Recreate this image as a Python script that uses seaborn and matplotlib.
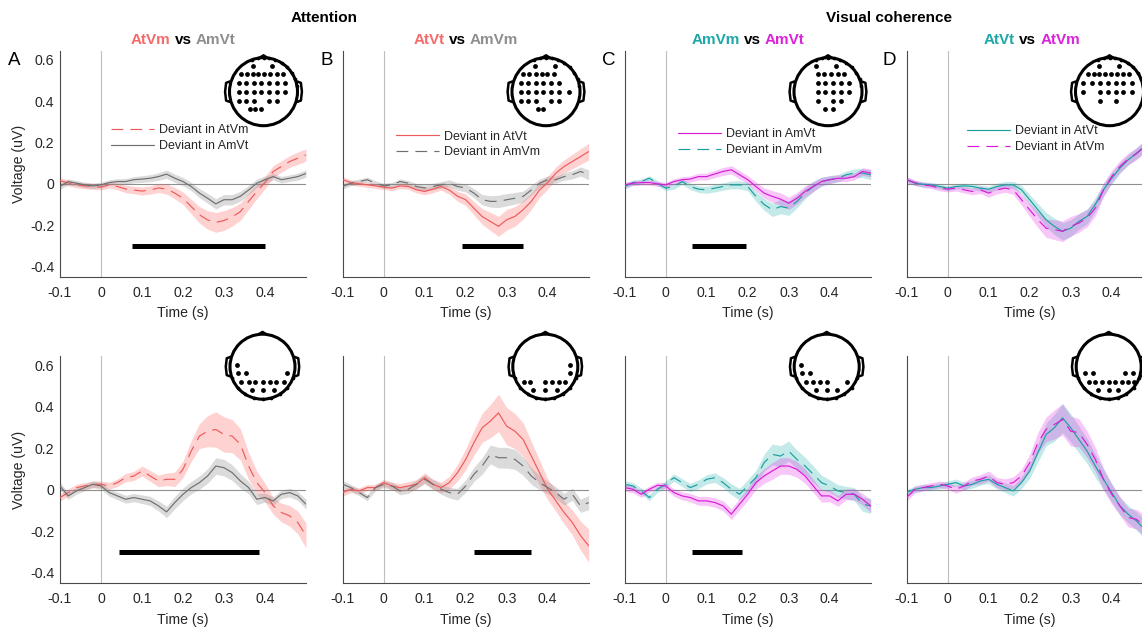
import numpy as np
import pandas as pd
import seaborn as sns
import matplotlib
matplotlib.use("Agg")
import matplotlib.pyplot as plt
from matplotlib.lines import Line2D
from matplotlib.patches import Circle

# ------------------------------------------------------------------ data
times = [-0.10, -0.08, -0.06, -0.04, -0.02, 0.00, 0.02, 0.04, 0.06, 0.08, 0.10,
         0.12, 0.14, 0.16, 0.18, 0.20, 0.22, 0.24, 0.26, 0.28, 0.30, 0.32, 0.34,
         0.36, 0.38, 0.40, 0.42, 0.44, 0.46, 0.48, 0.50]

# Panel A, top (frontal cluster): Deviant in AtVm (red, dashed) / AmVt (gray, solid)
a_top_red = [0.015, 0.005, -0.005, -0.010, -0.013, -0.016, -0.005, -0.013, -0.025, -0.030, -0.035,
             -0.030, -0.020, -0.025, -0.045, -0.070, -0.110, -0.150, -0.175, -0.187, -0.178, -0.160, -0.135,
             -0.085, -0.037, 0.006, 0.060, 0.084, 0.108, 0.124, 0.140]
a_top_red_sem = [0.015, 0.015, 0.014, 0.014, 0.014, 0.014, 0.015, 0.016, 0.018, 0.018, 0.020,
                 0.020, 0.022, 0.025, 0.028, 0.030, 0.035, 0.040, 0.045, 0.048, 0.048, 0.045, 0.042,
                 0.040, 0.035, 0.030, 0.028, 0.028, 0.028, 0.030, 0.030]
a_top_gray = [-0.013, 0.010, 0.003, -0.005, -0.010, -0.005, 0.006, 0.011, 0.011, 0.020, 0.023,
              0.027, 0.035, 0.047, 0.027, 0.011, -0.013, -0.045, -0.070, -0.097, -0.077, -0.077, -0.060,
              -0.030, 0.003, 0.020, 0.035, 0.020, 0.027, 0.035, 0.050]
a_top_gray_sem = [0.015, 0.014, 0.013, 0.013, 0.013, 0.013, 0.013, 0.014, 0.015, 0.015, 0.016,
                  0.017, 0.018, 0.020, 0.020, 0.020, 0.020, 0.022, 0.024, 0.025, 0.025, 0.025, 0.024,
                  0.022, 0.020, 0.018, 0.016, 0.016, 0.016, 0.017, 0.018]

# Panel B, top: Deviant in AtVt (red, solid) / AmVm (gray, dashed)
b_top_red = [0.020, 0.006, 0.000, -0.005, -0.010, -0.016, -0.021, -0.010, -0.013, -0.029, -0.037,
             -0.026, -0.013, -0.030, -0.060, -0.077, -0.118, -0.158, -0.182, -0.206, -0.174, -0.158, -0.126,
             -0.085, -0.030, 0.006, 0.052, 0.084, 0.108, 0.132, 0.156]
b_top_red_sem = [0.014, 0.013, 0.012, 0.012, 0.012, 0.012, 0.012, 0.013, 0.014, 0.015, 0.016,
                 0.017, 0.018, 0.020, 0.024, 0.028, 0.032, 0.038, 0.044, 0.048, 0.050, 0.048, 0.045,
                 0.040, 0.036, 0.032, 0.030, 0.032, 0.035, 0.038, 0.040]
b_top_gray = [-0.013, 0.003, 0.011, 0.020, 0.003, -0.010, -0.005, 0.011, 0.003, -0.013, -0.020,
              -0.013, -0.005, 0.003, -0.013, -0.020, -0.045, -0.077, -0.085, -0.085, -0.077, -0.070, -0.061,
              -0.030, 0.003, 0.020, 0.020, 0.035, 0.044, 0.060, 0.044]
b_top_gray_sem = [0.013, 0.012, 0.012, 0.012, 0.012, 0.012, 0.012, 0.013, 0.013, 0.014, 0.015,
                  0.016, 0.016, 0.017, 0.018, 0.020, 0.022, 0.025, 0.028, 0.030, 0.030, 0.028, 0.026,
                  0.024, 0.020, 0.018, 0.017, 0.018, 0.020, 0.022, 0.024]

# Panel C, top: Deviant in AmVt (magenta, solid) / AmVm (teal, dashed)
c_top_mag = [-0.005, 0.003, 0.006, 0.006, 0.000, -0.005, 0.011, 0.020, 0.023, 0.035, 0.035,
             0.048, 0.060, 0.068, 0.044, 0.020, -0.013, -0.045, -0.061, -0.074, -0.094, -0.070, -0.037,
             -0.013, 0.011, 0.020, 0.027, 0.027, 0.035, 0.060, 0.052]
c_top_mag_sem = [0.013, 0.012, 0.012, 0.012, 0.012, 0.012, 0.013, 0.014, 0.015, 0.016, 0.017,
                 0.018, 0.019, 0.020, 0.020, 0.020, 0.022, 0.025, 0.028, 0.030, 0.030, 0.028, 0.026,
                 0.024, 0.020, 0.018, 0.016, 0.016, 0.017, 0.018, 0.020]
c_top_teal = [-0.013, 0.006, 0.011, 0.027, 0.003, -0.021, -0.013, 0.011, -0.013, -0.026, -0.029,
              -0.021, -0.013, -0.005, -0.005, -0.013, -0.061, -0.100, -0.126, -0.110, -0.118, -0.085, -0.045,
              -0.013, 0.011, 0.020, 0.027, 0.044, 0.052, 0.052, 0.044]
c_top_teal_sem = [0.013, 0.012, 0.012, 0.012, 0.012, 0.012, 0.013, 0.014, 0.015, 0.016, 0.017,
                  0.018, 0.018, 0.019, 0.020, 0.020, 0.024, 0.028, 0.032, 0.035, 0.035, 0.032, 0.028,
                  0.025, 0.022, 0.020, 0.018, 0.018, 0.020, 0.022, 0.024]

# Panel D, top: Deviant in AtVt (teal, solid) / AtVm (magenta, dashed)
d_top_teal = [0.020, 0.003, -0.002, -0.005, -0.013, -0.021, -0.013, -0.010, -0.013, -0.021, -0.026,
              -0.013, -0.005, -0.005, -0.029, -0.077, -0.126, -0.174, -0.206, -0.230, -0.215, -0.182, -0.158,
              -0.100, -0.029, 0.027, 0.076, 0.116, 0.148, 0.180, 0.205]
d_top_teal_sem = [0.013, 0.012, 0.012, 0.012, 0.012, 0.012, 0.012, 0.013, 0.013, 0.014, 0.015,
                  0.016, 0.016, 0.017, 0.020, 0.025, 0.030, 0.035, 0.040, 0.042, 0.040, 0.038, 0.036,
                  0.034, 0.030, 0.028, 0.026, 0.026, 0.027, 0.028, 0.030]
d_top_mag = [0.020, 0.006, -0.005, -0.010, -0.021, -0.026, -0.021, -0.029, -0.037, -0.029, -0.045,
             -0.029, -0.021, -0.029, -0.077, -0.126, -0.174, -0.215, -0.222, -0.230, -0.206, -0.190, -0.166,
             -0.118, -0.029, 0.035, 0.084, 0.120, 0.145, 0.180, 0.213]
d_top_mag_sem = [0.014, 0.013, 0.013, 0.013, 0.013, 0.013, 0.014, 0.015, 0.016, 0.018, 0.020,
                 0.020, 0.020, 0.022, 0.026, 0.032, 0.038, 0.044, 0.048, 0.050, 0.048, 0.045, 0.042,
                 0.038, 0.034, 0.030, 0.028, 0.028, 0.029, 0.030, 0.032]

# Panel A, bottom (posterior cluster)
a_bot_red = [-0.037, -0.013, 0.011, 0.019, 0.027, 0.027, 0.019, 0.035, 0.059, 0.067, 0.091,
             0.067, 0.043, 0.051, 0.051, 0.099, 0.187, 0.259, 0.283, 0.291, 0.267, 0.259, 0.219,
             0.115, 0.035, -0.013, -0.077, -0.109, -0.125, -0.157, -0.220]
a_bot_red_sem = [0.018, 0.017, 0.016, 0.016, 0.016, 0.016, 0.017, 0.018, 0.020, 0.022, 0.024,
                 0.026, 0.028, 0.030, 0.035, 0.040, 0.050, 0.060, 0.075, 0.085, 0.085, 0.080, 0.075,
                 0.065, 0.055, 0.045, 0.040, 0.045, 0.050, 0.055, 0.060]
a_bot_gray = [0.019, -0.029, -0.005, 0.011, 0.027, 0.019, -0.013, -0.029, -0.045, -0.037, -0.045,
              -0.053, -0.077, -0.106, -0.061, -0.021, 0.011, 0.035, 0.067, 0.115, 0.107, 0.083, 0.043,
              0.011, -0.045, -0.037, -0.053, -0.021, -0.013, -0.029, -0.069]
a_bot_gray_sem = [0.018, 0.017, 0.016, 0.016, 0.016, 0.016, 0.017, 0.018, 0.019, 0.020, 0.021,
                  0.022, 0.024, 0.028, 0.030, 0.030, 0.030, 0.032, 0.035, 0.040, 0.040, 0.038, 0.035,
                  0.030, 0.026, 0.022, 0.020, 0.020, 0.021, 0.022, 0.024]

# Panel B, bottom
b_bot_red = [-0.013, 0.003, -0.005, 0.011, 0.011, 0.035, 0.019, 0.011, 0.019, 0.027, 0.059,
             0.027, 0.011, 0.035, 0.083, 0.147, 0.227, 0.299, 0.331, 0.371, 0.307, 0.283, 0.243,
             0.163, 0.083, 0.003, -0.053, -0.109, -0.157, -0.220, -0.269]
b_bot_red_sem = [0.017, 0.016, 0.015, 0.015, 0.015, 0.016, 0.018, 0.020, 0.021, 0.022, 0.024,
                 0.025, 0.026, 0.030, 0.040, 0.050, 0.060, 0.070, 0.080, 0.090, 0.090, 0.085, 0.080,
                 0.070, 0.060, 0.050, 0.050, 0.055, 0.060, 0.070, 0.080]
b_bot_gray = [0.027, 0.011, -0.013, -0.037, 0.011, 0.027, 0.019, -0.005, 0.003, 0.027, 0.051,
              0.027, 0.003, -0.013, -0.021, 0.019, 0.075, 0.115, 0.171, 0.155, 0.155, 0.147, 0.115,
              0.067, 0.035, 0.011, -0.013, -0.045, -0.021, -0.077, -0.061]
b_bot_gray_sem = [0.017, 0.016, 0.015, 0.015, 0.015, 0.016, 0.018, 0.019, 0.020, 0.021, 0.022,
                  0.023, 0.024, 0.026, 0.028, 0.030, 0.034, 0.040, 0.045, 0.050, 0.050, 0.048, 0.045,
                  0.040, 0.035, 0.030, 0.028, 0.028, 0.030, 0.032, 0.034]

# Panel C, bottom
c_bot_teal = [0.027, 0.019, -0.005, -0.037, 0.003, 0.027, 0.059, 0.035, 0.011, 0.027, 0.051,
              0.059, 0.035, 0.003, -0.021, 0.019, 0.059, 0.131, 0.171, 0.163, 0.187, 0.147, 0.115,
              0.075, 0.035, 0.019, -0.005, -0.013, -0.021, -0.069, -0.077]
c_bot_teal_sem = [0.017, 0.016, 0.015, 0.015, 0.015, 0.016, 0.018, 0.019, 0.020, 0.021, 0.022,
                  0.023, 0.024, 0.026, 0.028, 0.030, 0.035, 0.040, 0.050, 0.050, 0.048, 0.045, 0.042,
                  0.040, 0.035, 0.030, 0.030, 0.030, 0.032, 0.034, 0.036]
c_bot_mag = [0.011, 0.003, -0.021, 0.003, 0.022, 0.019, -0.013, -0.029, -0.037, -0.053, -0.053,
             -0.061, -0.077, -0.117, -0.069, -0.021, 0.035, 0.067, 0.091, 0.115, 0.115, 0.099, 0.067,
             0.019, -0.029, -0.029, -0.053, -0.021, -0.021, -0.045, -0.077]
c_bot_mag_sem = [0.017, 0.016, 0.015, 0.015, 0.015, 0.016, 0.018, 0.019, 0.020, 0.021, 0.022,
                 0.023, 0.024, 0.026, 0.028, 0.030, 0.032, 0.035, 0.040, 0.040, 0.040, 0.038, 0.035,
                 0.032, 0.030, 0.028, 0.026, 0.026, 0.027, 0.028, 0.030]

# Panel D, bottom
d_bot_teal = [-0.013, 0.003, 0.011, 0.011, 0.019, 0.027, 0.035, 0.019, 0.027, 0.043, 0.051,
              0.027, 0.011, -0.005, 0.035, 0.091, 0.179, 0.267, 0.299, 0.347, 0.299, 0.243, 0.187,
              0.115, 0.051, -0.013, -0.077, -0.117, -0.149, -0.189, -0.220]
d_bot_teal_sem = [0.016, 0.015, 0.015, 0.015, 0.015, 0.016, 0.017, 0.018, 0.019, 0.020, 0.021,
                  0.022, 0.023, 0.025, 0.028, 0.035, 0.045, 0.055, 0.065, 0.070, 0.068, 0.065, 0.060,
                  0.055, 0.050, 0.045, 0.042, 0.042, 0.044, 0.046, 0.048]
d_bot_mag = [-0.037, 0.003, 0.011, 0.019, 0.027, 0.019, 0.003, 0.019, 0.043, 0.051, 0.067,
             0.035, 0.027, 0.035, 0.067, 0.131, 0.227, 0.291, 0.315, 0.339, 0.283, 0.275, 0.219,
             0.147, 0.051, -0.021, -0.077, -0.133, -0.141, -0.173, -0.213]
d_bot_mag_sem = [0.018, 0.017, 0.016, 0.016, 0.016, 0.017, 0.018, 0.019, 0.020, 0.022, 0.024,
                 0.025, 0.026, 0.028, 0.032, 0.040, 0.050, 0.060, 0.070, 0.075, 0.072, 0.068, 0.064,
                 0.058, 0.052, 0.048, 0.045, 0.045, 0.047, 0.050, 0.052]

# Significant time windows (s)
sig_a_top = [0.075, 0.400]
sig_b_top = [0.190, 0.340]
sig_c_top = [0.065, 0.195]
sig_a_bot = [0.045, 0.385]
sig_b_bot = [0.220, 0.360]
sig_c_bot = [0.065, 0.185]
sig_level = -0.30

x_ticks = [-0.1, 0, 0.1, 0.2, 0.3, 0.4]
y_ticks = [-0.4, -0.2, 0, 0.2, 0.4, 0.6]

# Electrode clusters (normalised head coordinates)
head_a_top = [(-0.32, 0.755), (0.26, 0.755),
              (-0.66, 0.51), (-0.49, 0.51), (-0.32, 0.51), (-0.15, 0.51), (0.02, 0.51), (0.20, 0.51), (0.39, 0.51), (0.56, 0.51),
              (-0.735, 0.245), (-0.51, 0.245), (-0.29, 0.245), (-0.07, 0.245), (0.17, 0.245), (0.39, 0.245), (0.64, 0.245),
              (-0.735, -0.02), (-0.51, -0.02), (-0.29, -0.02), (-0.07, -0.02), (0.17, -0.02), (0.39, -0.02), (0.64, -0.02),
              (-0.735, -0.265), (-0.51, -0.265), (-0.29, -0.265), (0.17, -0.265), (0.39, -0.265),
              (-0.41, -0.51), (-0.245, -0.51), (-0.08, -0.51)]
head_b_top = [(-0.33, 0.755), (0.25, 0.755),
              (-0.67, 0.51), (-0.50, 0.51), (-0.30, 0.51), (-0.13, 0.51), (0.04, 0.51), (0.24, 0.51),
              (-0.75, 0.245), (-0.52, 0.245), (-0.30, 0.245), (-0.08, 0.245), (0.16, 0.245), (0.38, 0.245),
              (-0.75, -0.02), (-0.52, -0.02), (-0.30, -0.02), (-0.08, -0.02), (0.16, -0.02), (0.38, -0.02), (0.68, -0.02),
              (-0.75, -0.265), (-0.52, -0.265), (-0.30, -0.265), (0.16, -0.265), (0.38, -0.265),
              (-0.25, -0.51), (-0.09, -0.51)]
head_c_top = [(-0.35, 0.755), (0.24, 0.755),
              (-0.30, 0.51), (-0.11, 0.51), (0.09, 0.51), (0.28, 0.51), (0.48, 0.51),
              (-0.30, 0.245), (-0.08, 0.245), (0.16, 0.245), (0.38, 0.245), (0.63, 0.245),
              (-0.30, -0.02), (-0.08, -0.02), (0.16, -0.02), (0.38, -0.02), (0.63, -0.02),
              (-0.30, -0.265), (0.16, -0.265), (0.38, -0.265),
              (-0.09, -0.51), (0.16, -0.51)]
head_d_top = [(-0.30, 0.755), (0.28, 0.755),
              (-0.64, 0.51), (-0.47, 0.51), (-0.30, 0.51), (-0.13, 0.51), (0.04, 0.51), (0.22, 0.51), (0.41, 0.51), (0.58, 0.51),
              (-0.77, 0.245), (-0.52, 0.245), (-0.28, 0.245), (-0.05, 0.245), (0.18, 0.245), (0.41, 0.245), (0.65, 0.245),
              (-0.77, -0.02), (-0.28, -0.02), (-0.05, -0.02), (0.18, -0.02), (0.41, -0.02), (0.65, -0.02),
              (-0.28, -0.265), (0.18, -0.265)]
head_a_bot = [(-0.77, 0.05), (-0.76, -0.20), (-0.50, -0.20), (0.75, -0.20),
              (-0.66, -0.46), (-0.43, -0.46), (-0.23, -0.46), (0.00, -0.46), (0.22, -0.46), (0.42, -0.46), (0.65, -0.46),
              (-0.33, -0.71), (0.00, -0.71), (0.34, -0.71)]
head_b_bot = [(0.77, 0.05), (0.75, -0.20),
              (-0.67, -0.46), (-0.48, -0.46), (0.00, -0.46), (0.20, -0.46), (0.41, -0.46), (0.61, -0.46),
              (-0.37, -0.71), (0.00, -0.71), (0.35, -0.71)]
head_c_bot = [(-0.78, 0.05), (-0.75, -0.20), (-0.51, -0.20),
              (-0.63, -0.46), (-0.43, -0.46), (-0.22, -0.46), (0.00, -0.46), (0.63, -0.46),
              (-0.33, -0.71), (0.00, -0.71), (0.33, -0.71)]
head_d_bot = [(-0.72, -0.20), (-0.49, -0.20), (0.50, -0.20), (0.76, -0.20),
              (-0.62, -0.46), (-0.42, -0.46), (-0.21, -0.46), (0.00, -0.46), (0.19, -0.46), (0.40, -0.46), (0.60, -0.46), (0.78, -0.46),
              (-0.32, -0.71), (0.00, -0.71), (0.30, -0.71)]

# ------------------------------------------------------------------ style
RED, RED_F = "#ee5a5a", "#ff5f5f"
GRAY, GRAY_F = "#6f6f6f", "#808080"
TEAL, TEAL_F = "#1c9f9f", "#2ab0b0"
MAG, MAG_F = "#d81cd8", "#e633e6"
T_RED, T_GRAY, T_TEAL, T_MAG = "#f56b6b", "#8e8e8e", "#1ea7a7", "#dd22dd"
TXT = "#262626"
DASH = (0, (10, 6))

sns.set_theme(style="white")
plt.rcParams["font.family"] = ["Liberation Sans", "DejaVu Sans"]
plt.rcParams["axes.unicode_minus"] = False

W, H = 1142, 627
fig = plt.figure(figsize=(W / 100, H / 100), dpi=100)


def fx(px):
    return px / W


def fy(py):
    return 1 - py / H


def fmt(v):
    return "%g" % v


lefts = [60.0, 342.7, 624.7, 906.7]
AX_W = 246.0
rows = [(50.7, 276.7), (356.0, 583.3)]

panels = [
    # row, col, series list, sig, legend anchor, legend order
    (0, 0, [(a_top_red, a_top_red_sem, RED, RED_F, DASH, "Deviant in AtVm"),
            (a_top_gray, a_top_gray_sem, GRAY, GRAY_F, "-", "Deviant in AmVt")], sig_a_top, (111, 138), [0, 1]),
    (0, 1, [(b_top_red, b_top_red_sem, RED, RED_F, "-", "Deviant in AtVt"),
            (b_top_gray, b_top_gray_sem, GRAY, GRAY_F, DASH, "Deviant in AmVm")], sig_b_top, (396, 144.5), [0, 1]),
    (0, 2, [(c_top_teal, c_top_teal_sem, TEAL, TEAL_F, DASH, "Deviant in AmVm"),
            (c_top_mag, c_top_mag_sem, MAG, MAG_F, "-", "Deviant in AmVt")], sig_c_top, (678, 142), [1, 0]),
    (0, 3, [(d_top_teal, d_top_teal_sem, TEAL, TEAL_F, "-", "Deviant in AtVt"),
            (d_top_mag, d_top_mag_sem, MAG, MAG_F, DASH, "Deviant in AtVm")], None, (967, 139), [0, 1]),
    (1, 0, [(a_bot_red, a_bot_red_sem, RED, RED_F, DASH, None),
            (a_bot_gray, a_bot_gray_sem, GRAY, GRAY_F, "-", None)], sig_a_bot, None, None),
    (1, 1, [(b_bot_red, b_bot_red_sem, RED, RED_F, "-", None),
            (b_bot_gray, b_bot_gray_sem, GRAY, GRAY_F, DASH, None)], sig_b_bot, None, None),
    (1, 2, [(c_bot_teal, c_bot_teal_sem, TEAL, TEAL_F, DASH, None),
            (c_bot_mag, c_bot_mag_sem, MAG, MAG_F, "-", None)], sig_c_bot, None, None),
    (1, 3, [(d_bot_teal, d_bot_teal_sem, TEAL, TEAL_F, "-", None),
            (d_bot_mag, d_bot_mag_sem, MAG, MAG_F, DASH, None)], None, None, None),
]

t_arr = np.array(times)
for row, col, series, sig, leg, order in panels:
    top, bot = rows[row]
    ax = fig.add_axes([fx(lefts[col]), fy(bot), AX_W / W, (bot - top) / H])
    ax.set_xlim(-0.1, 0.5)
    ax.set_ylim(-0.45, 0.645)
    ax.axvline(0, color="#bdbdbd", lw=0.8, zorder=1)
    ax.axhline(0, color="#8f8f8f", lw=0.8, zorder=1)
    for m, s, c, cf, ls, lab in series:
        m = np.array(m)
        s = np.array(s)
        ax.fill_between(t_arr, m - s, m + s, color=cf, alpha=0.28, lw=0, zorder=2)
    for m, s, c, cf, ls, lab in series:
        df = pd.DataFrame({"t": times, "v": m})
        sns.lineplot(data=df, x="t", y="v", ax=ax, color=c, lw=0.85, linestyle=ls, zorder=3)
    if sig is not None:
        ax.plot(sig, [sig_level, sig_level], color="black", lw=3.6, solid_capstyle="butt", zorder=4)
    for sp in ["top", "right"]:
        ax.spines[sp].set_visible(False)
    for sp in ["left", "bottom"]:
        ax.spines[sp].set_color("#4a4a4a")
        ax.spines[sp].set_linewidth(0.8)
    ax.set_xticks(x_ticks)
    ax.set_xticklabels([fmt(v) for v in x_ticks])
    ax.tick_params(axis="x", direction="in", length=3, width=0.6, colors=TXT, labelsize=10.2, pad=6.5)
    if col == 0:
        ax.set_yticks(y_ticks)
        ax.set_yticklabels([fmt(v) for v in y_ticks])
        ax.tick_params(axis="y", direction="in", length=3, width=0.6, colors=TXT, labelsize=10.2, pad=4)
        ax.set_ylabel("Voltage (uV)", fontsize=10.2, color=TXT)
        ax.yaxis.set_label_coords((25.5 - lefts[0]) / AX_W, 0.5)
    else:
        ax.set_yticks([])
        ax.set_ylabel("")
    ax.set_xlabel("Time (s)", fontsize=10.2, color=TXT, labelpad=4.5)
    if leg is not None:
        handles = []
        for i in order:
            m, s, c, cf, ls, lab = series[i]
            handles.append(Line2D([0], [0], color=c, lw=0.85, linestyle=ls, label=lab))
        lg = ax.legend(handles=handles, loc="center left", bbox_to_anchor=(fx(leg[0]), fy(leg[1])),
                       bbox_transform=fig.transFigure, frameon=False, fontsize=9, handlelength=3.4,
                       handletextpad=0.45, labelspacing=0.3, borderpad=0, borderaxespad=0)
        for t in lg.get_texts():
            t.set_color(TXT)
    else:
        if ax.get_legend() is not None:
            ax.get_legend().remove()

# ------------------------------------------------------------------ heads
heads = [
    (263.5, 91.7, 34, head_a_top, "top"), (546.0, 91.7, 34, head_b_top, "top"),
    (828.0, 91.7, 34, head_c_top, "top"), (1109.5, 91.7, 34, head_d_top, "top"),
    (262.5, 366.7, 32.5, head_a_bot, "bot"), (545.3, 366.7, 32.5, head_b_bot, "bot"),
    (826.7, 366.7, 32.5, head_c_bot, "bot"), (1108.7, 366.7, 32.5, head_d_bot, "bot"),
]
for cx, cy, r, dots, kind in heads:
    k = 1.3
    hx = fig.add_axes([fx(cx - k * r), fy(cy + k * r), 2 * k * r / W, 2 * k * r / H])
    hx.set_xlim(-k, k)
    hx.set_ylim(-k, k)
    hx.axis("off")
    hx.add_patch(Circle((0, 0), 1.0, fill=False, lw=2.2, ec="black"))
    for sgn in (-1, 1):
        hx.plot([sgn * 0.99, sgn * 1.10, sgn * 1.13, sgn * 1.10, sgn * 0.99],
                [0.30, 0.26, 0.0, -0.26, -0.30], color="black", lw=1.8, solid_joinstyle="round")
    hx.plot([-0.12, 0.0, 0.12], [0.995, 1.07, 0.995], color="black", lw=1.8)
    if kind == "top":
        angs = np.deg2rad([110, 100, 90, 80, 70, 58, 46, 34, 22, 10])
    else:
        angs = np.deg2rad([-160, -140, -122, -106, -90, -74, -58, -40, -20])
    hx.scatter(1.0 * np.cos(angs), 1.0 * np.sin(angs), s=7, color="black", lw=0, zorder=3)
    dx = [d[0] for d in dots]
    dy = [d[1] for d in dots]
    hx.scatter(dx, dy, s=12, color="black", lw=0, zorder=4)

# ------------------------------------------------------------------ texts
renderer = fig.canvas.get_renderer()


def color_title(parts, cx_px, base_px, size=11):
    texts, widths = [], []
    for s, c in parts:
        t = fig.text(0, 0, s, color=c, fontsize=size, fontweight="bold", ha="left", va="baseline")
        widths.append(t.get_window_extent(renderer).width)
        texts.append(t)
    sp = fig.text(0, 0, "a a", fontsize=size, fontweight="bold")
    sp2 = fig.text(0, 0, "aa", fontsize=size, fontweight="bold")
    space = sp.get_window_extent(renderer).width - sp2.get_window_extent(renderer).width
    sp.remove()
    sp2.remove()
    total = sum(widths) + space * (len(parts) - 1)
    x = cx_px - total / 2
    for t, w in zip(texts, widths):
        t.set_position((fx(x), fy(base_px)))
        x += w + space


color_title([("AtVm", T_RED), ("vs", "black"), ("AmVt", T_GRAY)], 183, 44.5)
color_title([("AtVt", T_RED), ("vs", "black"), ("AmVm", T_GRAY)], 466, 44.5)
color_title([("AmVm", T_TEAL), ("vs", "black"), ("AmVt", T_MAG)], 748, 44.5)
color_title([("AtVt", T_TEAL), ("vs", "black"), ("AtVm", T_MAG)], 1032, 44.5)

fig.text(fx(324.5), fy(22.5), "Attention", fontsize=11, fontweight="bold", ha="center", va="baseline", color="black")
fig.text(fx(889), fy(22.5), "Visual coherence", fontsize=11, fontweight="bold", ha="center", va="baseline", color="black")

for letter, xl in zip("ABCD", [8, 320, 602, 883]):
    fig.text(fx(xl), fy(65), letter, fontsize=13.5, ha="left", va="baseline", color="black")

fig.savefig("out.png", dpi=100)
